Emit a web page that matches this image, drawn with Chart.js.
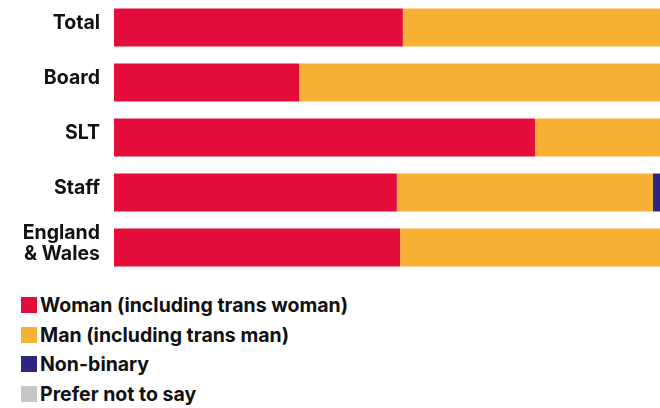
<!DOCTYPE html>
<html>
<head>
<meta charset="utf-8">
<script src="https://cdn.jsdelivr.net/npm/chart.js@4"></script>
<style>
  body { margin: 0; background: #fff; font-family: Inter, "Noto Sans", sans-serif; }
  #wrap { position: relative; width: 660px; height: 408px; }
  #chartBox { position: absolute; left: 0; top: 0; width: 660px; height: 275px; }
  #legend { position: absolute; left: 21px; top: 0; }
  .item { position: absolute; left: 0; display: flex; align-items: center; white-space: nowrap;
          font-weight: 700; font-size: 19.5px; color: #111; height: 16px; }
  .swatch { width: 16px; height: 16px; margin-right: 3px; flex: none; }
</style>
</head>
<body>
<div id="wrap">
  <div id="chartBox"><canvas id="genderChart"></canvas></div>
  <div id="legend"></div>
</div>
<script>
// Groupes affichés (une barre par groupe)
const groups = ["Total", "Board", "SLT", "Staff", ["England", "& Wales"]];

// Répartition en % par groupe
const woman = [52.9, 33.9, 77.1, 51.8, 52.4];
const man = [47.1, 66.1, 22.9, 46.9, 47.6];
const nonBinary = [0, 0, 0, 1.3, 0];
const preferNot = [0, 0, 0, 0, 0];

const seriesLabels = [
  "Woman (including trans woman)",
  "Man (including trans man)",
  "Non-binary",
  "Prefer not to say",
];
const seriesColors = ["#E40C3B", "#F8B035", "#2E2482", "#C6C6C6"];

const seriesData = [woman, man, nonBinary, preferNot];

const ctx = document.getElementById("genderChart").getContext("2d");
new Chart(ctx, {
  type: "bar",
  data: {
    labels: groups,
    datasets: seriesData.map((d, i) => ({
      label: seriesLabels[i],
      data: d,
      backgroundColor: seriesColors[i],
      borderWidth: 0,
      categoryPercentage: 1,
      barPercentage: 0.69,
    })),
  },
  options: {
    indexAxis: "y",
    responsive: true,
    maintainAspectRatio: false,
    animation: false,
    layout: { padding: 0 },
    plugins: {
      legend: { display: false },
      tooltip: { enabled: false },
    },
    scales: {
      x: {
        stacked: true,
        min: 0,
        max: 100,
        display: false,
      },
      y: {
        stacked: true,
        grid: { display: false, drawTicks: false },
        border: { display: false },
        afterFit: (scale) => {
          // largeur fixe, pas de marge haute/basse pour les libellés
          scale.width = 114;
          scale.paddingTop = 0;
          scale.paddingBottom = 0;
        },
        ticks: {
          padding: 14,
          labelOffset: -4,
          color: "#111",
          font: { family: "Inter", size: 19.5, weight: "700", lineHeight: 1.08 },
        },
      },
    },
  },
});

// Légende en HTML sous le graphique
const legend = document.getElementById("legend");
seriesLabels.forEach((label, i) => {
  const row = document.createElement("div");
  row.className = "item";
  row.style.top = 297 + i * 29.5 + "px";
  const sw = document.createElement("span");
  sw.className = "swatch";
  sw.style.background = seriesColors[i];
  const txt = document.createElement("span");
  txt.textContent = label;
  row.appendChild(sw);
  row.appendChild(txt);
  legend.appendChild(row);
});
</script>
</body>
</html>
